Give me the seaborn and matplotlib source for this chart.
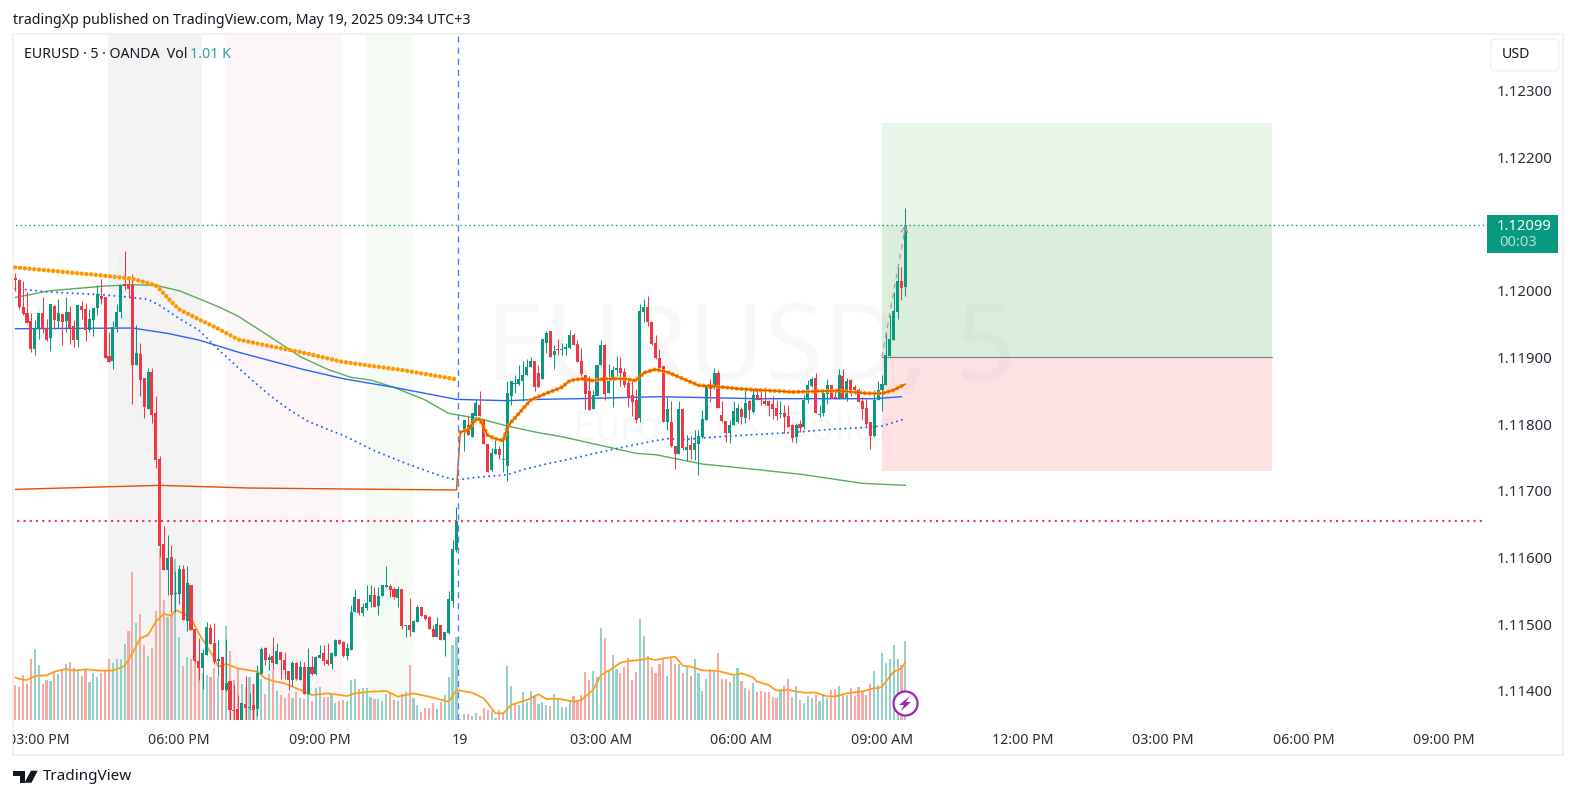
import numpy as np
import matplotlib
matplotlib.use("Agg")
import matplotlib.pyplot as plt
from matplotlib.patches import Rectangle, FancyBboxPatch, Polygon
from matplotlib.transforms import Bbox
import seaborn as sns

W, H = 1576, 799

# 5 minute candles, prices in 1e-5 units
highs = [
    112027,112017,112015,111998,111966,111956,111966,111990,111957,111980,
    111978,111987,111965,111990,111977,111956,111978,111984,111981,111973,
    111974,112008,112017,111991,111938,111954,111980,112008,112059,112022,
    112025,111948,111921,111869,111884,111884,111842,111752,111647,111634,
    111619,111580,111589,111589,111587,111558,111492,111479,111462,111503,
    111500,111501,111476,111450,111477,111414,111408,111393,111381,111422,
    111396,111410,111438,111465,111465,111455,111480,111471,111458,111458,
    111429,111444,111443,111444,111443,111464,111452,111452,111468,111468,
    111471,111458,111477,111477,111474,111471,111528,111552,111537,111531,
    111558,111558,111556,111556,111558,111587,111560,111556,111557,111552,
    111498,111539,111506,111528,111525,111514,111512,111498,111510,111498,
    111488,111549,111626,111675,111791,111806,111812,111816,111837,111849,
    111807,111770,111764,111781,111767,111783,111865,111865,111873,111889,
    111894,111897,111901,111895,111889,111927,111939,111940,111919,111927,
    111921,111921,111941,111937,111926,111914,111873,111872,111851,111888,
    111926,111920,111890,111887,111902,111900,111884,111866,111864,111852,
    111980,111987,111992,111953,111933,111912,111887,111840,111834,111767,
    111834,111824,111783,111782,111791,111791,111821,111858,111867,111884,
    111881,111834,111804,111806,111834,111830,111826,111851,111836,111852,
    111854,111852,111855,111836,111842,111836,111834,111828,111828,111800,
    111801,111806,111843,111866,111870,111876,111828,111851,111867,111858,
    111849,111882,111882,111869,111867,111858,111854,111841,111837,111803,
    111851,111864,111873,111938,111963,111998,112035,112035,112124,
]
body_top = [
    112019,112016,111975,111966,111954,111944,111966,111966,111944,111980,
    111977,111966,111965,111968,111968,111947,111978,111977,111972,111957,
    111974,111995,111992,111990,111902,111945,111968,112008,112010,112010,
    112008,111906,111905,111869,111878,111878,111816,111747,111620,111599,
    111601,111547,111583,111583,111562,111558,111492,111444,111456,111495,
    111494,111471,111447,111450,111411,111414,111371,111373,111381,111380,
    111375,111378,111426,111462,111464,111450,111452,111459,111458,111446,
    111429,111441,111441,111435,111435,111435,111435,111450,111453,111456,
    111446,111456,111476,111476,111473,111464,111518,111540,111537,111525,
    111531,111544,111544,111542,111558,111558,111557,111552,111552,111552,
    111498,111498,111504,111525,111525,111513,111510,111492,111500,111498,
    111488,111537,111612,111654,111790,111806,111798,111816,111831,111828,
    111806,111770,111756,111762,111762,111747,111846,111864,111861,111867,
    111874,111885,111894,111894,111876,111927,111937,111939,111909,111912,
    111912,111915,111933,111933,111920,111894,111873,111849,111843,111888,
    111918,111918,111864,111881,111884,111884,111878,111861,111843,111836,
    111969,111975,111975,111953,111921,111899,111887,111822,111803,111767,
    111822,111822,111765,111768,111771,111782,111807,111858,111858,111876,
    111876,111813,111804,111798,111819,111824,111822,111831,111834,111843,
    111843,111837,111834,111834,111830,111824,111816,111816,111812,111798,
    111798,111800,111836,111858,111867,111869,111815,111846,111858,111858,
    111840,111874,111872,111864,111866,111855,111851,111834,111824,111803,
    111836,111851,111860,111903,111927,111969,112014,112014,112099,
]
body_bot = [
    112016,111975,111965,111952,111913,111913,111942,111942,111926,111929,
    111956,111955,111953,111954,111944,111926,111926,111971,111941,111941,
    111956,111974,111987,111899,111893,111895,111945,111968,112007,112003,
    111888,111888,111866,111825,111822,111813,111746,111617,111581,111581,
    111544,111545,111545,111506,111505,111491,111444,111434,111434,111453,
    111470,111443,111444,111401,111401,111371,111370,111356,111356,111374,
    111374,111371,111372,111425,111446,111446,111441,111440,111446,111431,
    111416,111416,111417,111416,111395,111395,111425,111425,111449,111444,
    111440,111440,111452,111470,111452,111452,111461,111518,111516,111516,
    111524,111533,111526,111527,111542,111556,111551,111540,111539,111497,
    111497,111491,111488,111503,111512,111507,111492,111480,111480,111476,
    111476,111486,111534,111611,111786,111790,111783,111780,111812,111812,
    111770,111728,111731,111755,111753,111746,111737,111842,111860,111860,
    111864,111873,111886,111856,111856,111868,111922,111901,111903,111911,
    111911,111913,111914,111918,111893,111875,111845,111821,111822,111842,
    111888,111845,111846,111866,111881,111876,111858,111840,111833,111806,
    111809,111968,111953,111920,111899,111884,111803,111803,111767,111755,
    111755,111764,111761,111761,111761,111770,111780,111806,111853,111855,
    111824,111804,111786,111786,111798,111803,111810,111809,111821,111818,
    111836,111836,111830,111827,111822,111812,111815,111810,111796,111779,
    111780,111794,111795,111836,111857,111816,111813,111816,111845,111839,
    111839,111839,111839,111839,111851,111851,111833,111822,111800,111782,
    111782,111836,111851,111858,111902,111926,111968,112004,112006,
]
lows = [
    111999,111973,111964,111951,111908,111904,111928,111937,111925,111910,
    111942,111944,111919,111938,111920,111916,111916,111957,111924,111938,
    111932,111963,111980,111899,111893,111882,111938,111959,112001,111991,
    111830,111888,111842,111809,111822,111801,111734,111600,111581,111544,
    111518,111518,111530,111506,111490,111491,111443,111416,111402,111453,
    111470,111440,111422,111401,111399,111356,111356,111353,111353,111356,
    111371,111358,111362,111425,111438,111431,111431,111440,111417,111417,
    111401,111407,111416,111416,111395,111395,111423,111423,111449,111438,
    111438,111432,111452,111470,111450,111446,111461,111518,111513,111512,
    111521,111526,111525,111514,111542,111555,111541,111537,111526,111493,
    111481,111482,111488,111503,111512,111506,111492,111480,111480,111476,
    111452,111485,111525,111608,111786,111760,111783,111780,111812,111812,
    111770,111728,111729,111755,111747,111728,111714,111829,111846,111858,
    111835,111873,111885,111849,111855,111868,111907,111900,111882,111903,
    111903,111903,111913,111918,111893,111872,111822,111821,111822,111842,
    111888,111836,111846,111825,111872,111857,111855,111825,111812,111801,
    111803,111953,111947,111918,111897,111882,111803,111791,111765,111732,
    111755,111761,111744,111747,111746,111723,111779,111806,111833,111852,
    111824,111803,111773,111771,111798,111801,111800,111802,111807,111816,
    111836,111828,111828,111812,111808,111806,111809,111786,111796,111773,
    111771,111788,111793,111831,111856,111816,111811,111812,111830,111839,
    111837,111837,111837,111834,111842,111845,111833,111807,111797,111762,
    111780,111836,111819,111858,111902,111926,111957,111986,111992,
]
direction = (
    "RRRRRGGRRG" "RGRGRRGRRG" "GGRRRGGGRR" "RGRRGRRRRG" "RGGRGRRRGG"
    "RRGRGRRRGR" "GRGGRGRGRR" "RGRGRGRGGR" "RGGRRGGGRG" "GGRGGGRRGR"
    "GRGGRRRRGR" "GGGGGGRGGR" "RRGGRGGGGG" "GGGRRGGRGR" "GGGRRRRRGG"
    "GRGGGRRRRR" "GGRRRRRGRR" "GRGRGGGGRG" "RRRGGGRGRG" "RRRRRRGRRR"
    "GRGGGRGGGR" "RGRGRRRRRR" "GGGGGGGRG"
)

# volume, relative units (last bar is the 1.01 K in the legend)
volumes = [
    105,99,135,108,183,213,165,108,120,117,
    147,138,153,168,174,156,147,132,153,114,
    141,129,141,150,183,171,183,183,228,267,
    444,291,318,225,192,216,327,513,360,309,
    318,483,249,162,189,183,186,177,141,135,
    129,156,130,130,282,207,120,156,108,100,
    129,108,135,123,78,138,147,87,75,66,
    81,66,84,66,63,93,57,96,99,69,
    69,81,51,57,60,57,120,123,93,96,
    96,69,63,63,57,78,84,60,57,78,
    84,165,66,45,24,36,36,51,33,54,
    75,129,225,249,3,18,18,12,21,12,
    36,30,27,6,30,18,162,102,48,45,
    84,54,87,72,48,54,45,42,78,66,
    39,39,60,72,57,75,144,120,147,129,
    276,246,147,195,153,141,159,186,120,144,
    303,252,192,159,141,168,186,132,186,168,
    168,141,159,132,183,141,87,123,153,150,
    201,123,123,114,132,156,117,96,90,111,
    84,87,84,84,69,66,93,102,123,69,
    102,60,51,72,66,75,57,75,66,90,
    93,102,78,75,96,72,99,87,75,108,
    147,105,201,171,183,225,183,165,237,
]
vol_color_flip = [28, 125, 128, 134, 139]

vol_ma_i = [0,1,3,5,8,10,13,15,18,22,25,28,30,32,34,36,38,40,41,43,45,47,51,52,54,57,62,64,66,69,
            73,76,80,85,87,91,95,98,102,106,111,113,117,120,123,125,127,131,134,136,139,143,145,148,150,
            153,155,157,160,162,164,166,169,171,173,176,180,184,186,189,190,193,195,198,202,205,208,210,213,217,
            220,221,222,225,227,228]
vol_ma = [128,123,120,132,134,145,153,148,152,148,148,162,200,245,255,295,318,313,330,320,305,260,185,160,168,155,145,125,117,110,
          90,75,80,72,80,85,87,70,80,70,55,90,82,65,20,20,45,60,77,63,64,55,60,90,135,
          155,172,177,180,185,180,185,190,163,160,149,147,135,140,128,115,105,88,90,82,82,71,71,80,86,
          95,95,100,145,155,173]

# indicators, read at a few bars each
orange_a_i = [0,9,22,30,36,38,40,42,47,52,57,65,73,84,99,113]
orange_a = [112035,112030,112023,112018,112008,111996,111983,111972,111957,111943,111927,111917,111908,111893,111881,111867]
orange_b_i = [114,116,118,119,121,123,125,126,127,129,132,136,140,142,145,148,151,156,159,161,164,167,171,175,180,185,190,194,199,211,218,222,225,228]
orange_b = [111788,111791,111807,111807,111783,111778,111775,111794,111803,111816,111836,111846,111855,111865,111868,111865,111868,111868,111865,111877,111882,111878,111868,111858,111856,111853,111851,111850,111848,111850,111846,111846,111851,111860]
vwap_i = [0,37,60,113]
vwap = [111702,111708,111704,111701]
blue_dot_i = [0,9,22,28,34,37,42,47,52,57,61,65,70,75,80,84,92,100,109,113,118,126,131,136,140,144,153,163,167,172,178,186,198,209,218,222,228]
blue_dot = [112003,111998,111994,111991,111987,111978,111958,111941,111912,111885,111864,111844,111822,111804,111792,111783,111760,111741,111722,111716,111720,111724,111733,111740,111745,111750,111762,111774,111778,111777,111780,111783,111787,111792,111795,111797,111808]
green_i = [0,9,23,30,36,42,47,52,57,65,73,80,86,91,97,105,111,119,126,134,140,153,159,164,176,191,202,217,228]
green = [111990,112000,112007,112009,112008,112000,111988,111976,111962,111932,111901,111882,111870,111866,111855,111836,111816,111808,111797,111787,111781,111764,111756,111754,111740,111731,111724,111711,111708]
blue_i = [0,30,39,47,57,73,84,97,105,113,126,134,144,165,190,220,227]
blue = [111943,111944,111936,111926,111908,111883,111868,111855,111846,111837,111835,111837,111838,111841,111838,111838,111841]

# time axis, in bars
time_ticks = [6, 42, 78, 114, 150, 186, 222, 258, 294, 330, 366]
time_labels = ["03:00 PM", "06:00 PM", "09:00 PM", "19", "03:00 AM", "06:00 AM", "09:00 AM",
               "12:00 PM", "03:00 PM", "06:00 PM", "09:00 PM"]
price_ticks = [1.123, 1.122, 1.120, 1.119, 1.118, 1.117, 1.116, 1.115, 1.114]

last_price = 1.12099
level_red = 1.11654
entry, target, stop = 1.11900, 1.12252, 1.11729
box_start, box_end = 222, 322
sessions = [(23.74, 47.8, "#f3f3f3"), (53.7, 83.7, "#fdf6f8"), (89.8, 101.9, "#f5faf5")]
cursor_bar = 113.5

UP, DOWN = "#089981", "#f23645"
TEXT = "#131722"


def px(x, y):
    return x / W, 1 - y / H


sns.set_theme(style="white")
plt.rcParams["font.family"] = ["Noto Sans", "DejaVu Sans"]

idx = np.arange(len(highs))
is_up = np.array([c == "G" for c in direction])
top = np.array(body_top) / 1e5
bot = np.array(body_bot) / 1e5

fig = plt.figure(figsize=(W / 100, H / 100), dpi=100, facecolor="white")

# pane border, drawn behind the axes
fig.add_artist(Rectangle(px(12.5, 755), 1550.5 / W, 721 / H, transform=fig.transFigure,
                         fc="white", ec="#f0f0f0", lw=1.5, zorder=-1))

left, right, pane_top, pane_bot = 13, 1486, 35, 720
rect = [left / W, 1 - pane_bot / H, (right - left) / W, (pane_bot - pane_top) / H]
ax_vol = fig.add_axes(rect)
ax_vol.patch.set_visible(False)
ax = ax_vol.twinx()
ax.set_zorder(ax_vol.get_zorder() + 1)
ax.patch.set_visible(False)

# volume pane
for start, end, col in sessions:
    ax_vol.axvspan(start, end, color=col, lw=0, zorder=0)

ax_vol.text(*px(751, 352), "EURUSD, 5", transform=fig.transFigure, ha="center", va="center",
            fontsize=76, color="#f8f8f9", zorder=0.5)
ax_vol.text(*px(733, 430), "Euro / U.S. Dollar", transform=fig.transFigure, ha="center", va="center",
            fontsize=29, color="#f8f8f9", zorder=0.5)

vol_up = is_up.copy()
vol_up[vol_color_flip] = ~vol_up[vol_color_flip]
sns.barplot(x=idx, y=volumes, hue=np.where(vol_up, "up", "down"),
            palette={"up": "#92d2c9", "down": "#f7a9a7"}, native_scale=True, width=0.55,
            saturation=1, dodge=False, legend=False, linewidth=0, ax=ax_vol, zorder=2)
sns.lineplot(x=vol_ma_i, y=vol_ma, color="#ff9d1e", lw=1.3, estimator=None, errorbar=None,
             legend=False, ax=ax_vol, zorder=3)

# position box
span = box_end - box_start
ax.add_patch(Rectangle((box_start, entry), span, target - entry, fc="#4caf50", alpha=0.12, lw=0, zorder=1))
ax.add_patch(Rectangle((box_start, entry), span, last_price - entry, fc="#4caf50", alpha=0.09, lw=0, zorder=1.1))
ax.add_patch(Rectangle((box_start, stop), span, entry - stop, fc="#f23645", alpha=0.15, lw=0, zorder=1))
ax.plot([box_start, box_end], [entry, entry], color="#787b86", lw=0.8, zorder=1.2)

# indicators
dot_kw = dict(estimator=None, errorbar=None, legend=False, sort=False, ax=ax)
sns.lineplot(x=green_i, y=np.array(green) / 1e5, color="#56ad5a", lw=1.0, zorder=3, **dot_kw)
sns.lineplot(x=blue_i, y=np.array(blue) / 1e5, color="#2962ff", lw=1.0, zorder=3, **dot_kw)
sns.lineplot(x=blue_dot_i, y=np.array(blue_dot) / 1e5, color="#2962ff", lw=1.5,
             linestyle=(0, (0.01, 2.5)), dash_capstyle="round", zorder=3, **dot_kw)

# candles
ax.vlines(idx[is_up], np.array(lows)[is_up] / 1e5, np.array(highs)[is_up] / 1e5, color=UP, lw=0.75, zorder=4)
ax.vlines(idx[~is_up], np.array(lows)[~is_up] / 1e5, np.array(highs)[~is_up] / 1e5, color=DOWN, lw=0.75, zorder=4)
ax.bar(idx, top - bot, bottom=bot, width=0.78, color=np.where(is_up, UP, DOWN), lw=0, zorder=4.1)

sns.lineplot(x=orange_a_i, y=np.array(orange_a) / 1e5, color="#ff9800", lw=3.2,
             linestyle=(0, (0.01, 1.06)), dash_capstyle="round", zorder=5, **dot_kw)
sns.lineplot(x=orange_b_i, y=np.array(orange_b) / 1e5, color="#ff9800", lw=3.2,
             linestyle=(0, (0.01, 1.06)), dash_capstyle="round", zorder=5, **dot_kw)
sns.lineplot(x=vwap_i + orange_b_i, y=np.array(vwap + orange_b) / 1e5, color="#e65100", lw=1.0,
             zorder=5.1, **dot_kw)

# levels
ax.plot([-1, 377], [level_red, level_red], color="#f23645", lw=1.5, linestyle=(0, (1, 2)), zorder=6)
ax.plot([-1, 377], [last_price, last_price], color=UP, lw=1.0, linestyle=(0, (1, 2.2)), zorder=6)
ax.axvline(cursor_bar, color="#4a86e8", lw=1.0, linestyle=(0, (4.5, 3.5)), zorder=6)
ax.plot([box_start, 227.8], [entry, 1.12090], color="#9a9da6", lw=0.9, linestyle=(0, (4, 4)), zorder=6)
ax.annotate("", xy=(228, last_price), xytext=(227.7, 1.12085),
            arrowprops=dict(arrowstyle="->", color="#9a9da6", lw=0.9, shrinkA=0, shrinkB=0,
                            mutation_scale=11), zorder=6)

# axes
ax_vol.set_ylim(0, pane_bot * 3 - pane_top * 3)
ax.set_ylim(1.11356, 1.123836)
for a in (ax, ax_vol):
    a.set_xlim(-0.589, 376.72)
    a.set_xlabel("")
    a.set_ylabel("")
    a.grid(False)
    for s in a.spines.values():
        s.set_visible(False)
ax_vol.set_yticks([])
ax.yaxis.tick_right()
ax.set_yticks(price_ticks)
ax.set_yticklabels([f"{p:.5f}" for p in price_ticks], fontsize=10.8, color="#2a2e39", ha="left")
ax.tick_params(axis="y", length=0, pad=7.5)
ax_vol.set_xticks(time_ticks)
ax_vol.set_xticklabels(time_labels, fontsize=10.2, color="#2a2e39")
ax_vol.tick_params(axis="x", length=0, pad=9)
clip = Bbox.from_extents(13, 0, W, H)
for lbl in ax_vol.get_xticklabels():
    lbl.set_clip_box(clip)
    lbl.set_clip_on(True)
    if lbl.get_text() == "19":
        lbl.set_fontweight("bold")

# header and legend text
fig.text(*px(13, 20), "tradingXp published on TradingView.com, May 19, 2025 09:34 UTC+3",
         fontsize=10.2, color=TEXT, ha="left", va="center")
fig.text(*px(23.5, 54), "EURUSD · 5 · OANDA  Vol", fontsize=10.2, color=TEXT, ha="left", va="center")
fig.text(*px(190, 54), "1.01 K", fontsize=10.2, color="#26a69a", ha="left", va="center")

# price label and currency button
x0, y0 = px(1487, 252.7)
fig.add_artist(Rectangle((x0, y0), 71 / W, 37.7 / H, transform=fig.transFigure, fc=UP, lw=0, zorder=5))
fig.text(*px(1524, 226), "1.12099", fontsize=10.6, color="white", ha="center", va="center", zorder=6)
fig.text(*px(1518, 243), "00:03", fontsize=10.6, color="#b5e0d9", ha="center", va="center", zorder=6)
usd_box = FancyBboxPatch((1491, H - 70.7), 68, 31.7, boxstyle="round,pad=0,rounding_size=5",
                         transform=None, fc="white", ec="#f0f3fa", lw=1.2, zorder=5)
fig.add_artist(usd_box)
fig.text(*px(1502, 55), "USD", fontsize=10.2, color=TEXT, ha="left", va="center", zorder=6)

# bolt icon on the last bar
ax.scatter([228], [1.11381], s=300, facecolor="white", edgecolor="#9c27b0", linewidth=1.6, zorder=7)
bolt = [(910, 696), (899, 705), (904, 705), (901, 711), (911, 702), (906, 702)]
fig.add_artist(Polygon([px(*p) for p in bolt], transform=fig.transFigure, fc="#9c27b0", lw=0, zorder=8))

# TradingView logo
logo_t = [(13.3, 770.7), (25, 770.7), (25, 782.7), (19.5, 782.7), (19.5, 776), (13.3, 776)]
logo_v = [(31, 770.7), (37.7, 770.7), (31.5, 782.7), (24.5, 782.7)]
for shape in (logo_t, logo_v):
    fig.add_artist(Polygon([px(*p) for p in shape], transform=fig.transFigure, fc=TEXT, lw=0))
fig.text(*px(42.7, 777), "TradingView", fontsize=11, color=TEXT, ha="left", va="center")

fig.savefig("out.png", dpi=100)
